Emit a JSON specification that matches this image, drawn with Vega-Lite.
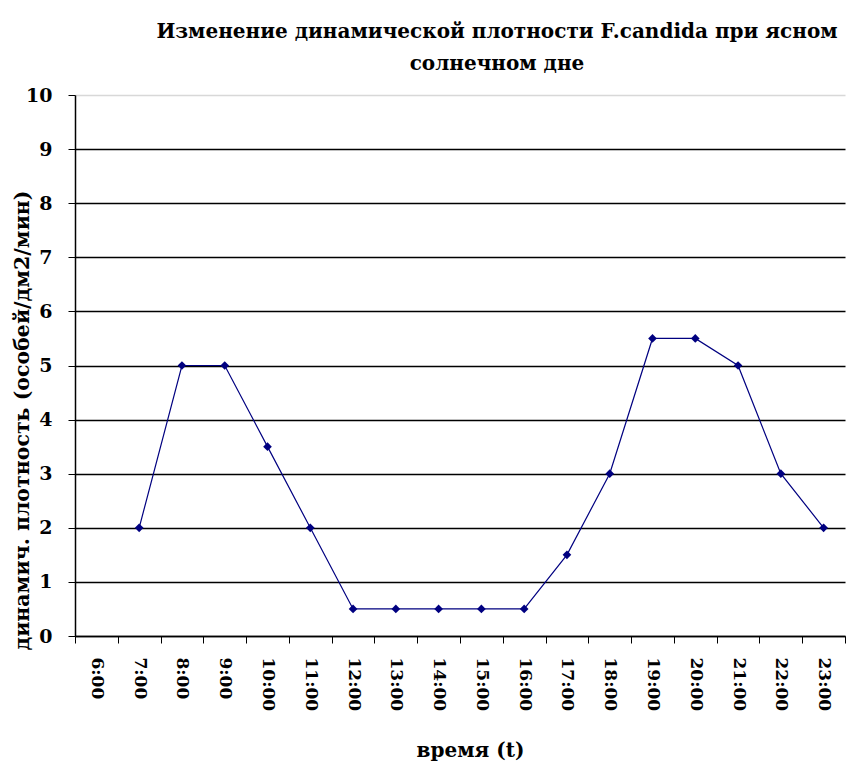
{
  "$schema": "https://vega.github.io/schema/vega-lite/v6.json",
  "width": 770,
  "height": 541,
  "autosize": "none",
  "padding": {"left": 75, "top": 95, "right": 12, "bottom": 131},
  "background": "white",
  "title": {
    "text": ["Изменение  динамической плотности F.candida при ясном", "солнечном дне"],
    "font": "DejaVu Serif",
    "fontSize": 20,
    "fontWeight": "bold",
    "color": "black",
    "anchor": "middle",
    "dx": 37,
    "lineHeight": 32,
    "offset": 12
  },
  "data": {
    "values": [
      {"t": "7:00", "v": 2},
      {"t": "8:00", "v": 5},
      {"t": "9:00", "v": 5},
      {"t": "10:00", "v": 3.5},
      {"t": "11:00", "v": 2},
      {"t": "12:00", "v": 0.5},
      {"t": "13:00", "v": 0.5},
      {"t": "14:00", "v": 0.5},
      {"t": "15:00", "v": 0.5},
      {"t": "16:00", "v": 0.5},
      {"t": "17:00", "v": 1.5},
      {"t": "18:00", "v": 3},
      {"t": "19:00", "v": 5.5},
      {"t": "20:00", "v": 5.5},
      {"t": "21:00", "v": 5},
      {"t": "22:00", "v": 3},
      {"t": "23:00", "v": 2}
    ]
  },
  "config": {
    "font": "DejaVu Serif",
    "view": {"stroke": null},
    "axis": {"labelFont": "DejaVu Serif", "titleFont": "DejaVu Serif", "labelColor": "black", "titleColor": "black"}
  },
  "encoding": {
    "x": {
      "field": "t",
      "type": "ordinal",
      "sort": null,
      "bandPosition": 0.5,
      "scale": {
        "type": "band",
        "domain": ["6:00","7:00","8:00","9:00","10:00","11:00","12:00","13:00","14:00","15:00","16:00","17:00","18:00","19:00","20:00","21:00","22:00","23:00"],
        "paddingInner": 0,
        "paddingOuter": 0
      },
      "axis": {
        "title": "время (t)",
        "titleFontSize": 20,
        "titleFontWeight": "bold",
        "titlePadding": 30,
        "titleX": 395,
        "titleAnchor": "start",
        "titleAlign": "center",
        "labelAngle": 90,
        "labelAlign": "left",
        "labelBaseline": "middle",
        "labelFontSize": 17,
        "labelFontWeight": "bold",
        "labelPadding": 14,
        "tickBand": "extent",
        "tickSize": 7,
        "tickColor": "black",
        "domainColor": "black",
        "domainWidth": 1.5,
        "grid": false
      }
    },
    "y": {
      "field": "v",
      "type": "quantitative",
      "scale": {"domain": [0, 10], "nice": false},
      "axis": {
        "title": "динамич. плотность (особей/дм2/мин)",
        "titleFontSize": 20.5,
        "titleFontWeight": "bold",
        "titleX": -53,
        "titleY": 325,
        "titleAlign": "center",
        "titleBaseline": "middle",
        "values": [0,1,2,3,4,5,6,7,8,9,10],
        "labelFontSize": 19,
        "labelFontWeight": "bold",
        "labelPadding": 16,
        "tickSize": 7,
        "tickColor": "black",
        "domainColor": "black",
        "domainWidth": 1.5,
        "grid": true,
        "gridColor": {"condition": {"test": "datum.value === 10", "value": "#d8d8d8"}, "value": "black"},
        "gridWidth": 1.3,
        "gridOpacity": 1
      }
    }
  },
  "layer": [
    {"mark": {"type": "line", "color": "#000080", "strokeWidth": 1.2}},
    {"mark": {"type": "point", "shape": "diamond", "filled": true, "color": "#000080", "size": 75, "opacity": 1}}
  ]
}
